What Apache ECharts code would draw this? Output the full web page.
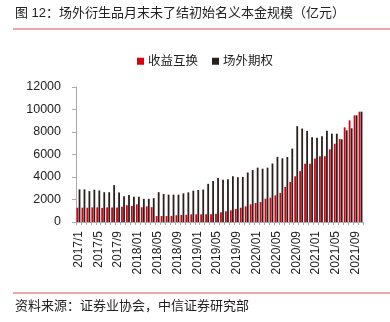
<!DOCTYPE html>
<html>
<head>
<meta charset="utf-8">
<script src="https://cdn.jsdelivr.net/npm/echarts@6/dist/echarts.min.js"></script>
<style>html,body{margin:0;padding:0;background:#fff;}#c{width:390px;height:322px;}</style>
</head>
<body>
<div id="c"></div>
<script>
const categories = [
  '2017/1','2017/2','2017/3','2017/4','2017/5','2017/6','2017/7','2017/8','2017/9','2017/10','2017/11','2017/12',
  '2018/01','2018/02','2018/03','2018/04','2018/05','2018/06','2018/07','2018/08','2018/09','2018/10','2018/11','2018/12',
  '2019/01','2019/02','2019/03','2019/04','2019/05','2019/06','2019/07','2019/08','2019/09','2019/10','2019/11','2019/12',
  '2020/01','2020/02','2020/03','2020/04','2020/05','2020/06','2020/07','2020/08','2020/09','2020/10','2020/11','2020/12',
  '2021/01','2021/02','2021/03','2021/04','2021/05','2021/06','2021/07','2021/08','2021/09','2021/10'
];
const swapValues = [
  1270,1270,1270,1300,1300,1250,1300,1300,1300,1360,1490,1420,
  1570,1310,1390,1320,530,530,530,540,600,620,640,680,
  680,680,680,690,740,860,950,1040,1160,1270,1390,1570,
  1690,1780,2070,2160,2370,2580,3110,3556,4060,4520,5185,5185,
  5650,5850,5850,6460,6960,7380,8415,9037,9481,9807
];
const optionValues = [
  2900,2900,2750,2870,2800,2650,2650,3280,2620,2300,2390,2240,
  2240,2060,2060,2120,2650,2490,2430,2430,2430,2550,2640,2780,
  2840,2880,3390,3640,3910,3760,3800,4070,3980,4010,4400,4620,
  4830,4740,4830,5200,5790,5660,5780,6530,8520,8310,8100,7540,
  7480,7630,8110,7850,7850,7348,8148,8326,9481,9807
];
const yTicks = [0,2000,4000,6000,8000,10000,12000];

const FONT = '"Liberation Sans", "Noto Sans CJK SC", sans-serif';
const chart = echarts.init(document.getElementById('c'), null, {renderer:'canvas'});
chart.setOption({
  animation:false,
  backgroundColor:'#fff',
  textStyle:{fontFamily:FONT},
  graphic:[
    {type:'text', left:15, top:7, style:{text:'图 12：场外衍生品月末未了结初始名义本金规模（亿元）', font:'13px '+FONT, fill:'#222'}},
    {type:'line', shape:{x1:13,y1:29,x2:390,y2:29}, style:{stroke:'#e58a88', lineWidth:1.5}},
    {type:'line', shape:{x1:13,y1:293,x2:390,y2:293}, style:{stroke:'#e58a88', lineWidth:1.5}},
    {type:'text', left:15, top:300, style:{text:'资料来源：证券业协会，中信证券研究部', font:'13px '+FONT, fill:'#222'}}
  ],
  legend:{
    top:50, left:132, itemWidth:7, itemHeight:7, itemGap:14, icon:'rect',
    textStyle:{fontSize:12.5, color:'#222', fontFamily:FONT, padding:[0,0,0,-1]},
    data:['收益互换','场外期权']
  },
  grid:{left:76, right:27, top:87, bottom:100},
  xAxis:{
    type:'category', data:categories,
    axisLine:{lineStyle:{color:'#aaa'}},
    axisTick:{show:true, interval:0, length:3, lineStyle:{color:'#aaa'}},
    axisLabel:{interval:3, rotate:90, fontSize:12, color:'#222', margin:9, fontFamily:FONT}
  },
  yAxis:{
    type:'value', min:yTicks[0], max:yTicks[yTicks.length-1], interval:2000,
    splitLine:{show:false},
    axisLine:{show:true, lineStyle:{color:'#aaa'}},
    axisTick:{show:true, length:4, lineStyle:{color:'#aaa'}},
    axisLabel:{fontSize:12.5, color:'#222', margin:15, fontFamily:FONT, formatter:function(v){return String(v);}}
  },
  series:[
    {name:'收益互换', type:'bar', data:swapValues, itemStyle:{color:'#d9000f'}, barGap:'15%', barCategoryGap:'22%'},
    {name:'场外期权', type:'bar', data:optionValues, itemStyle:{color:'#2a1f1d'}}
  ]
});
</script>
</body>
</html>
